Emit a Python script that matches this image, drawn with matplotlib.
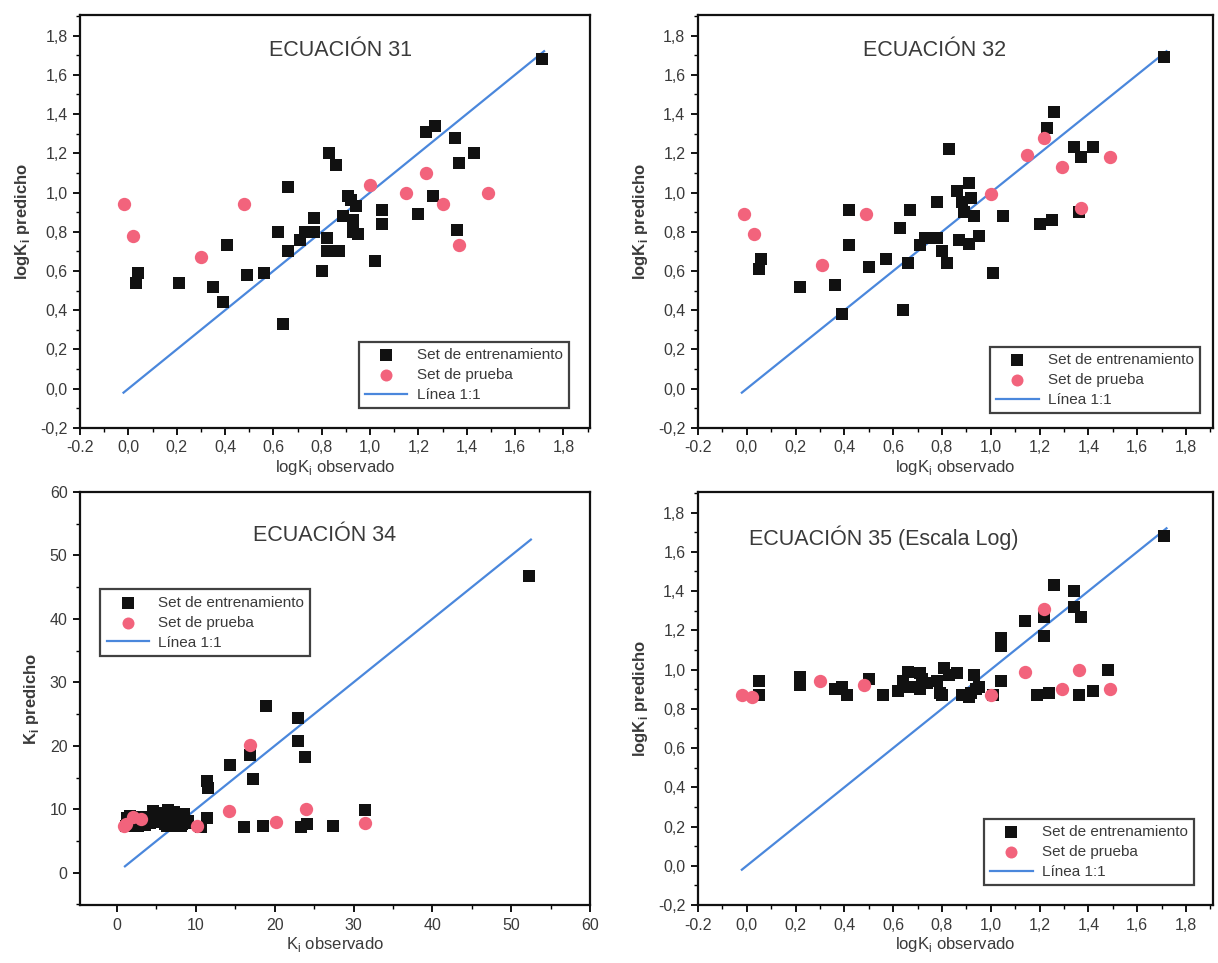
import numpy as np
import matplotlib
matplotlib.use("Agg")
import matplotlib.pyplot as plt
from matplotlib.ticker import MultipleLocator, FuncFormatter

plt.rcParams['font.family'] = ['Liberation Sans', 'DejaVu Sans']

# ============================================
# Datos: ECUACIÓN 31 (logK)
# ============================================
obs31_ent = [0.03, 0.04, 0.21, 0.35, 0.39, 0.41, 0.49, 0.56, 0.62, 0.66,
             0.66, 0.64, 0.71, 0.73, 0.77, 0.77, 0.80, 0.82, 0.82, 0.83,
             0.86, 0.87, 0.89, 0.91, 0.92, 0.93, 0.93, 0.94, 0.95, 1.02,
             1.05, 1.05, 1.20, 1.23, 1.27, 1.26, 1.35, 1.36, 1.37, 1.43, 1.71]
pred31_ent = [0.54, 0.59, 0.54, 0.52, 0.44, 0.73, 0.58, 0.59, 0.80, 1.03,
              0.70, 0.33, 0.76, 0.80, 0.87, 0.80, 0.60, 0.77, 0.70, 1.20,
              1.14, 0.70, 0.88, 0.98, 0.96, 0.80, 0.86, 0.93, 0.79, 0.65,
              0.91, 0.84, 0.89, 1.31, 1.34, 0.98, 1.28, 0.81, 1.15, 1.20, 1.68]
obs31_pru = [-0.02, 0.02, 0.30, 0.48, 1.00, 1.15, 1.23, 1.30, 1.37, 1.49]
pred31_pru = [0.94, 0.78, 0.67, 0.94, 1.04, 1.00, 1.10, 0.94, 0.73, 1.00]

# ============================================
# Datos: ECUACIÓN 32 (logK)
# ============================================
obs32_ent = [0.05, 0.06, 0.22, 0.36, 0.39, 0.42, 0.42, 0.50, 0.57, 0.63,
             0.64, 0.66, 0.67, 0.71, 0.73, 0.78, 0.78, 0.80, 0.82, 0.83,
             0.86, 0.87, 0.88, 0.89, 0.91, 0.91, 0.92, 0.93, 0.95, 1.01,
             1.05, 1.20, 1.23, 1.25, 1.26, 1.34, 1.36, 1.37, 1.42, 1.71]
pred32_ent = [0.61, 0.66, 0.52, 0.53, 0.38, 0.73, 0.91, 0.62, 0.66, 0.82,
              0.40, 0.64, 0.91, 0.73, 0.77, 0.95, 0.77, 0.70, 0.64, 1.22,
              1.01, 0.76, 0.95, 0.90, 1.05, 0.74, 0.97, 0.88, 0.78, 0.59,
              0.88, 0.84, 1.33, 0.86, 1.41, 1.23, 0.90, 1.18, 1.23, 1.69]
obs32_pru = [-0.01, 0.03, 0.31, 0.49, 1.00, 1.15, 1.22, 1.29, 1.37, 1.49]
pred32_pru = [0.89, 0.79, 0.63, 0.89, 0.99, 1.19, 1.28, 1.13, 0.92, 1.18]

# ============================================
# Datos: ECUACIÓN 34 (K, escala lineal)
# ============================================
obs34_ent = [1.1, 1.2, 1.6, 1.7, 2.3, 2.4, 2.6, 3.1, 3.6, 4.2,
             4.4, 4.6, 4.7, 5.1, 5.2, 5.3, 5.5, 6.0, 6.1, 6.3,
             6.5, 6.7, 7.2, 7.6, 8.1, 8.3, 8.5, 8.7, 9.0, 10.6,
             11.4, 11.4, 11.5, 14.3, 16.1, 16.9, 17.2, 18.5, 18.9, 22.9,
             22.9, 23.3, 23.9, 24.1, 27.4, 31.5, 52.3]
pred34_ent = [7.4, 8.6, 9.0, 8.2, 8.0, 8.1, 7.4, 8.8, 7.5, 7.8,
              8.8, 9.7, 8.1, 9.4, 8.0, 8.9, 8.6, 8.6, 7.7, 7.4,
              9.9, 9.3, 9.5, 7.4, 7.3, 7.6, 9.2, 7.9, 8.1, 7.2,
              8.6, 14.4, 13.4, 17.0, 7.2, 18.6, 14.7, 7.4, 26.2, 24.4,
              20.7, 7.2, 18.3, 7.6, 7.4, 9.8, 46.8]
obs34_pru = [0.9, 1.1, 2.0, 3.0, 10.1, 14.2, 16.9, 20.1, 24.0, 31.4]
pred34_pru = [7.3, 7.6, 8.7, 8.4, 7.3, 9.7, 20.2, 8.0, 10.0, 7.9]

# ============================================
# Datos: ECUACIÓN 35 (logK)
# ============================================
obs35_ent = [0.05, 0.05, 0.22, 0.22, 0.36, 0.39, 0.41, 0.50, 0.56, 0.62,
             0.64, 0.66, 0.67, 0.71, 0.71, 0.72, 0.74, 0.78, 0.79, 0.80,
             0.81, 0.83, 0.86, 0.88, 0.91, 0.92, 0.93, 0.94, 0.95, 1.01,
             1.04, 1.04, 1.04, 1.14, 1.19, 1.22, 1.22, 1.24, 1.26, 1.34,
             1.34, 1.36, 1.37, 1.42, 1.48, 1.71]
pred35_ent = [0.87, 0.94, 0.96, 0.92, 0.90, 0.91, 0.87, 0.95, 0.87, 0.89,
              0.94, 0.99, 0.91, 0.98, 0.90, 0.95, 0.93, 0.94, 0.88, 0.87,
              1.01, 0.97, 0.98, 0.87, 0.86, 0.88, 0.97, 0.90, 0.91, 0.87,
              1.16, 1.12, 0.94, 1.25, 0.87, 1.27, 1.17, 0.88, 1.43, 1.40,
              1.32, 0.87, 1.27, 0.89, 1.00, 1.68]
obs35_pru = [-0.02, 0.02, 0.30, 0.48, 1.00, 1.14, 1.22, 1.29, 1.36, 1.49]
pred35_pru = [0.87, 0.86, 0.94, 0.92, 0.87, 0.99, 1.31, 0.90, 1.00, 0.90]

# Línea 1:1 (extremos)
linea_log = [-0.02, 1.72]
linea_k = [1.0, 52.5]

NEGRO = '#111111'
ROSA = '#f2637c'
AZUL = '#4a87dc'
GRIS = '#3a3a3a'


def fmt_coma(v, pos):
    return f"{v:.1f}".replace('.', ',')


def fmt_x(v, pos):
    # el eje x del original muestra "-0.2" con punto y el resto con coma
    if v < -0.1:
        return "-0.2"
    return f"{v:.1f}".replace('.', ',')


def estilo_ejes(ax):
    for sp in ax.spines.values():
        sp.set_linewidth(1.6)
        sp.set_color('#111111')
    ax.tick_params(which='major', direction='out', length=5, width=1.3,
                   labelsize=11.5, labelcolor=GRIS, pad=4)
    ax.tick_params(which='minor', direction='out', length=3, width=1.0)
    ax.tick_params(top=False, right=False)


def leyenda(ax, loc, anchor):
    leg = ax.legend(loc=loc, bbox_to_anchor=anchor, fontsize=11,
                    frameon=True, fancybox=False, edgecolor='#111111',
                    handlelength=2.8, borderpad=0.4, labelspacing=0.4,
                    handletextpad=0.6, borderaxespad=0, labelcolor=GRIS,
                    markerscale=0.9)
    leg.get_frame().set_linewidth(1.6)


def puntos(ax, obs_e, pred_e, obs_p, pred_p, linea):
    ax.scatter(obs_e, pred_e, marker='s', s=82, color=NEGRO, zorder=3,
               label='Set de entrenamiento', linewidths=0)
    ax.scatter(obs_p, pred_p, marker='o', s=92, color=ROSA, zorder=3,
               label='Set de prueba', linewidths=0)
    ax.plot(linea, linea, color=AZUL, lw=1.6, zorder=2, label='Línea 1:1')


def panel_log(ax, obs_e, pred_e, obs_p, pred_p, titulo, tpos, ha, leg_anchor):
    puntos(ax, obs_e, pred_e, obs_p, pred_p, linea_log)
    ax.set_xlim(-0.2, 1.91)
    ax.set_ylim(-0.2, 1.905)
    ax.xaxis.set_major_locator(MultipleLocator(0.2))
    ax.xaxis.set_minor_locator(MultipleLocator(0.1))
    ax.yaxis.set_major_locator(MultipleLocator(0.2))
    ax.yaxis.set_minor_locator(MultipleLocator(0.1))
    ax.xaxis.set_major_formatter(FuncFormatter(fmt_x))
    ax.yaxis.set_major_formatter(FuncFormatter(fmt_coma))
    ax.set_xlabel(r'logK$_\mathregular{i}$ observado', fontsize=12, color=GRIS, labelpad=2)
    ax.set_ylabel(r'logK$_\mathregular{i}$ predicho', fontsize=12, color=GRIS,
                  fontweight='bold', labelpad=6)
    ax.text(tpos[0], tpos[1], titulo, transform=ax.transAxes, ha=ha,
            va='center', fontsize=15.5, color=GRIS)
    leyenda(ax, 'lower right', leg_anchor)
    estilo_ejes(ax)


fig = plt.figure(figsize=(12.18, 9.63), dpi=100)

ax1 = fig.add_axes([0.0657, 0.5556, 0.4187, 0.4289])
ax2 = fig.add_axes([0.5730, 0.5556, 0.4228, 0.4289])
ax3 = fig.add_axes([0.0657, 0.0602, 0.4187, 0.4289])
ax4 = fig.add_axes([0.5730, 0.0602, 0.4228, 0.4289])

panel_log(ax1, obs31_ent, pred31_ent, obs31_pru, pred31_pru,
          'ECUACIÓN 31', (0.51, 0.915), 'center', (0.958, 0.048))
panel_log(ax2, obs32_ent, pred32_ent, obs32_pru, pred32_pru,
          'ECUACIÓN 32', (0.46, 0.915), 'center', (0.975, 0.036))
panel_log(ax4, obs35_ent, pred35_ent, obs35_pru, pred35_pru,
          'ECUACIÓN 35 (Escala Log)', (0.10, 0.89), 'left', (0.963, 0.048))

# Panel ECUACIÓN 34 (escala lineal)
puntos(ax3, obs34_ent, pred34_ent, obs34_pru, pred34_pru, linea_k)
ax3.set_xlim(-4.7, 60)
ax3.set_ylim(-5.1, 60)
ax3.xaxis.set_major_locator(MultipleLocator(10))
ax3.xaxis.set_minor_locator(MultipleLocator(5))
ax3.yaxis.set_major_locator(MultipleLocator(10))
ax3.yaxis.set_minor_locator(MultipleLocator(5))
ax3.set_xlabel(r'K$_\mathregular{i}$ observado', fontsize=12, color=GRIS, labelpad=2)
ax3.set_ylabel(r'K$_\mathregular{i}$ predicho', fontsize=12, color=GRIS,
               fontweight='bold', labelpad=6)
ax3.text(0.48, 0.895, 'ECUACIÓN 34', transform=ax3.transAxes, ha='center',
         va='center', fontsize=15.5, color=GRIS)
leyenda(ax3, 'upper left', (0.04, 0.764))
estilo_ejes(ax3)

fig.savefig('out.png', dpi=100)
plt.close(fig)
